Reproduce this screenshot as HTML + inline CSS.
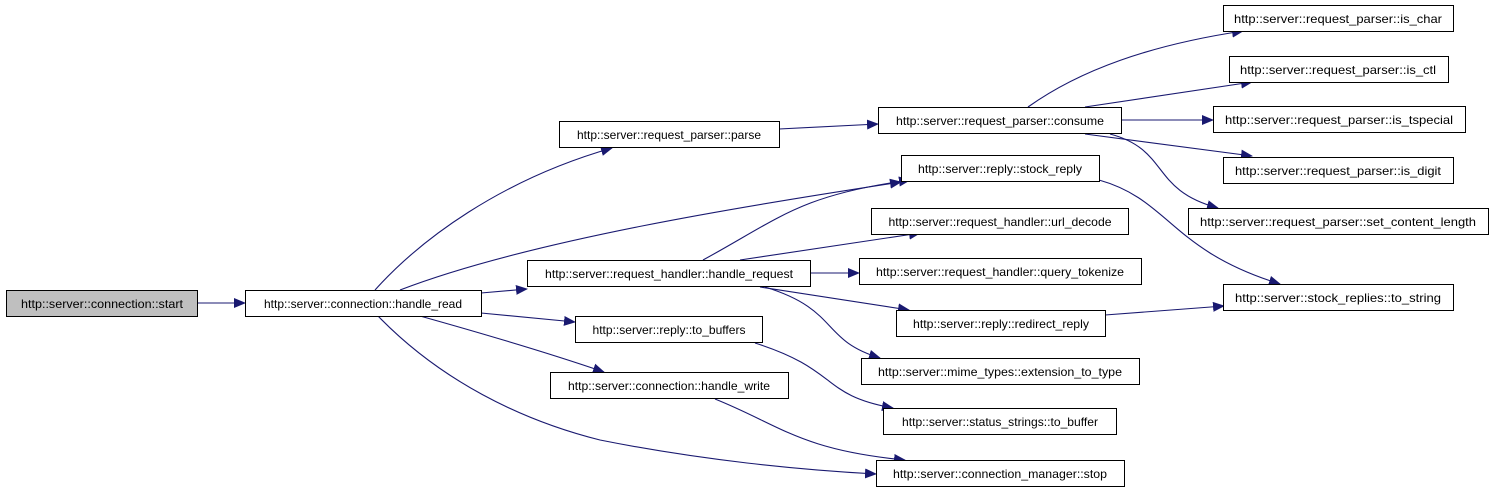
<!DOCTYPE html>
<html><head><meta charset="utf-8"><style>
html,body{margin:0;padding:0;background:#fff;}
svg{display:block;}
text{font-family:"Liberation Sans",sans-serif;font-size:12px;fill:#000;}
</style></head><body>
<svg width="1493" height="493" viewBox="0 0 1493 493" xmlns="http://www.w3.org/2000/svg">
<defs>
<marker id="a" markerWidth="12" markerHeight="10" refX="11" refY="5" orient="auto" markerUnits="userSpaceOnUse">
<path d="M0,0 L12,5 L0,10 Z" fill="#191970"/>
</marker>
</defs>
<g fill="none" stroke="#191970" stroke-width="1.1" marker-end="url(#a)">
<path d="M197,303 L245,303"/>
<path d="M375,290 C420,240 500,180 612,148"/>
<path d="M400,290 C530,240 750,205 901,182"/>
<path d="M481,293 L527,289"/>
<path d="M481,313 L575,322"/>
<path d="M420,316 C470,330 540,350 604,372"/>
<path d="M378,316 C440,380 520,420 600,440 C700,460 800,470 876,474"/>
<path d="M779,129 L878,124"/>
<path d="M1028,107 C1080,70 1150,45 1243,31"/>
<path d="M1085,107 L1252,82"/>
<path d="M1121,120 L1213,120"/>
<path d="M1085,134 L1252,156"/>
<path d="M1110,134 C1170,150 1150,190 1218,208"/>
<path d="M1099,180 C1170,200 1170,250 1280,284"/>
<path d="M703,260 C780,218 800,195 910,180"/>
<path d="M740,260 L920,233"/>
<path d="M810,273 L859,273"/>
<path d="M760,287 L909,310"/>
<path d="M765,287 C840,310 820,340 880,358"/>
<path d="M1105,315 L1224,306"/>
<path d="M755,343 C840,370 820,395 893,408"/>
<path d="M715,399 C780,425 800,450 905,460"/>
</g>
<g stroke="#000" stroke-width="1">
<rect x="6.5" y="290.5" width="191" height="26" fill="#bfbfbf"/>
<rect x="245.5" y="290.5" width="236" height="26" fill="#fff"/>
<rect x="559.5" y="121.5" width="220" height="26" fill="#fff"/>
<rect x="878.5" y="107.5" width="243" height="26" fill="#fff"/>
<rect x="901.5" y="155.5" width="198" height="26" fill="#fff"/>
<rect x="871.5" y="208.5" width="257" height="26" fill="#fff"/>
<rect x="527.5" y="260.5" width="283" height="26" fill="#fff"/>
<rect x="859.5" y="258.5" width="282" height="26" fill="#fff"/>
<rect x="896.5" y="310.5" width="209" height="26" fill="#fff"/>
<rect x="575.5" y="316.5" width="187" height="26" fill="#fff"/>
<rect x="861.5" y="358.5" width="278" height="26" fill="#fff"/>
<rect x="550.5" y="372.5" width="238" height="26" fill="#fff"/>
<rect x="883.5" y="408.5" width="233" height="26" fill="#fff"/>
<rect x="876.5" y="460.5" width="248" height="26" fill="#fff"/>
<rect x="1223.5" y="5.5" width="230" height="26" fill="#fff"/>
<rect x="1229.5" y="56.5" width="219" height="26" fill="#fff"/>
<rect x="1213.5" y="106.5" width="252" height="26" fill="#fff"/>
<rect x="1223.5" y="157.5" width="230" height="26" fill="#fff"/>
<rect x="1188.5" y="208.5" width="300" height="26" fill="#fff"/>
<rect x="1223.5" y="284.5" width="230" height="26" fill="#fff"/>
</g>
<g text-anchor="middle">
<text x="102" y="308" textLength="162" lengthAdjust="spacingAndGlyphs">http::server::connection::start</text>
<text x="363" y="308" textLength="198" lengthAdjust="spacingAndGlyphs">http::server::connection::handle_read</text>
<text x="669" y="139" textLength="184" lengthAdjust="spacingAndGlyphs">http::server::request_parser::parse</text>
<text x="1000" y="125" textLength="208" lengthAdjust="spacingAndGlyphs">http::server::request_parser::consume</text>
<text x="1000" y="173" textLength="164" lengthAdjust="spacingAndGlyphs">http::server::reply::stock_reply</text>
<text x="1000" y="226" textLength="223" lengthAdjust="spacingAndGlyphs">http::server::request_handler::url_decode</text>
<text x="669" y="278" textLength="248" lengthAdjust="spacingAndGlyphs">http::server::request_handler::handle_request</text>
<text x="1000" y="276" textLength="248" lengthAdjust="spacingAndGlyphs">http::server::request_handler::query_tokenize</text>
<text x="1001" y="328" textLength="176" lengthAdjust="spacingAndGlyphs">http::server::reply::redirect_reply</text>
<text x="669" y="334" textLength="153" lengthAdjust="spacingAndGlyphs">http::server::reply::to_buffers</text>
<text x="1000" y="376" textLength="244" lengthAdjust="spacingAndGlyphs">http::server::mime_types::extension_to_type</text>
<text x="669" y="390" textLength="202" lengthAdjust="spacingAndGlyphs">http::server::connection::handle_write</text>
<text x="1000" y="426" textLength="196" lengthAdjust="spacingAndGlyphs">http::server::status_strings::to_buffer</text>
<text x="1000" y="478" textLength="214" lengthAdjust="spacingAndGlyphs">http::server::connection_manager::stop</text>
<text x="1338" y="23" textLength="208" lengthAdjust="spacingAndGlyphs">http::server::request_parser::is_char</text>
<text x="1338" y="74" textLength="196" lengthAdjust="spacingAndGlyphs">http::server::request_parser::is_ctl</text>
<text x="1339" y="124" textLength="228" lengthAdjust="spacingAndGlyphs">http::server::request_parser::is_tspecial</text>
<text x="1338" y="175" textLength="206" lengthAdjust="spacingAndGlyphs">http::server::request_parser::is_digit</text>
<text x="1338" y="226" textLength="276" lengthAdjust="spacingAndGlyphs">http::server::request_parser::set_content_length</text>
<text x="1338" y="302" textLength="206" lengthAdjust="spacingAndGlyphs">http::server::stock_replies::to_string</text>
</g>
</svg>
</body></html>
